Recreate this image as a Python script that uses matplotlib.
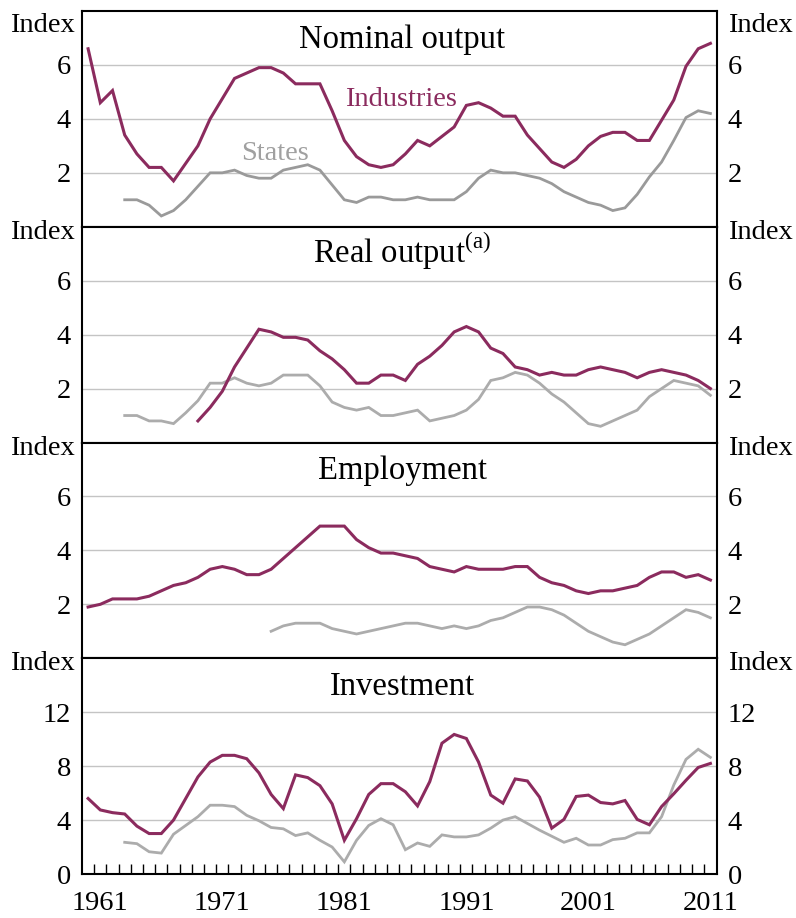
import numpy as np
import matplotlib
matplotlib.use("Agg")
import matplotlib.pyplot as plt

plt.rcParams['font.family'] = ['Liberation Serif', 'DejaVu Serif']
plt.rcParams['mathtext.fontset'] = 'custom'
plt.rcParams['mathtext.rm'] = 'Liberation Serif'

# === Data (annual index values) ===
nominal_industries = [6.6, 4.6, 5.05, 3.4, 2.7, 2.2, 2.2, 1.7, 2.35, 3.0,
                      4.0, 4.75, 5.5, 5.7, 5.9, 5.9, 5.7, 5.3, 5.3, 5.3,
                      4.3, 3.2, 2.6, 2.3, 2.2, 2.3, 2.7, 3.2, 3.0, 3.35,
                      3.7, 4.5, 4.6, 4.4, 4.1, 4.1, 3.4, 2.9, 2.4, 2.2,
                      2.5, 3.0, 3.35, 3.5, 3.5, 3.2, 3.2, 3.95, 4.7, 5.95,
                      6.6, 6.8]  # 1960-2011
nominal_states = [1.0, 1.0, 0.8, 0.4, 0.6, 1.0, 1.5,
                  2.0, 2.0, 2.1, 1.9, 1.8, 1.8, 2.1, 2.2, 2.3, 2.1,
                  1.55, 1.0, 0.9, 1.1, 1.1, 1.0, 1.0, 1.1, 1.0, 1.0,
                  1.0, 1.3, 1.8, 2.1, 2.0, 2.0, 1.9, 1.8, 1.6, 1.3,
                  1.1, 0.9, 0.8, 0.6, 0.7, 1.2, 1.85, 2.4, 3.2, 4.05,
                  4.3, 4.2]  # 1963-2011

real_industries = [0.8,
                   1.3, 1.9, 2.8, 3.5, 4.2, 4.1, 3.9, 3.9, 3.8, 3.4,
                   3.1, 2.7, 2.2, 2.2, 2.5, 2.5, 2.3, 2.9, 3.2, 3.6,
                   4.1, 4.3, 4.1, 3.5, 3.3, 2.8, 2.7, 2.5, 2.6, 2.5,
                   2.5, 2.7, 2.8, 2.7, 2.6, 2.4, 2.6, 2.7, 2.6, 2.5,
                   2.3, 2.0]  # 1969-2011
real_states = [1.0, 1.0, 0.8, 0.8, 0.7, 1.1, 1.55,
               2.2, 2.2, 2.4, 2.2, 2.1, 2.2, 2.5, 2.5, 2.5, 2.1,
               1.5, 1.3, 1.2, 1.3, 1.0, 1.0, 1.1, 1.2, 0.8, 0.9,
               1.0, 1.2, 1.6, 2.3, 2.4, 2.6, 2.5, 2.2, 1.8, 1.5,
               1.1, 0.7, 0.6, 0.8, 1.0, 1.2, 1.7, 2.0, 2.3, 2.2,
               2.1, 1.75]  # 1963-2011

employment_industries = [1.9, 2.0, 2.2, 2.2, 2.2, 2.3, 2.5, 2.7, 2.8, 3.0,
                         3.3, 3.4, 3.3, 3.1, 3.1, 3.3, 3.7, 4.1, 4.5, 4.9,
                         4.9, 4.9, 4.4, 4.1, 3.9, 3.9, 3.8, 3.7, 3.4, 3.3,
                         3.2, 3.4, 3.3, 3.3, 3.3, 3.4, 3.4, 3.0, 2.8, 2.7,
                         2.5, 2.4, 2.5, 2.5, 2.6, 2.7, 3.0, 3.2, 3.2, 3.0,
                         3.1, 2.9]  # 1960-2011
employment_states = [1.0, 1.2, 1.3, 1.3, 1.3,
                     1.1, 1.0, 0.9, 1.0, 1.1, 1.2, 1.3, 1.3, 1.2, 1.1,
                     1.2, 1.1, 1.2, 1.4, 1.5, 1.7, 1.9, 1.9, 1.8, 1.6,
                     1.3, 1.0, 0.8, 0.6, 0.5, 0.7, 0.9, 1.2, 1.5, 1.8,
                     1.7, 1.5]  # 1975-2011

investment_industries = [5.6, 4.75, 4.55, 4.45, 3.55, 3.0, 3.0, 4.0, 5.6, 7.2,
                         8.3, 8.8, 8.8, 8.55, 7.5, 5.9, 4.85, 7.35, 7.15, 6.55,
                         5.2, 2.5, 4.1, 5.9, 6.7, 6.7, 6.1, 5.05, 6.85, 9.7,
                         10.35, 10.05, 8.3, 5.85, 5.25, 7.05, 6.9, 5.7, 3.4, 4.05,
                         5.75, 5.85, 5.3, 5.2, 5.45, 4.05, 3.65, 5.0, 5.95, 6.95,
                         7.9, 8.2]  # 1960-2011
investment_states = [2.35, 2.25, 1.65, 1.55, 2.95, 3.6, 4.25,
                     5.1, 5.1, 5.0, 4.35, 3.95, 3.45, 3.35, 2.85, 3.05, 2.5,
                     2.0, 0.9, 2.5, 3.6, 4.1, 3.65, 1.8, 2.3, 2.05, 2.9,
                     2.75, 2.75, 2.9, 3.4, 4.0, 4.25, 3.75, 3.25, 2.8, 2.35,
                     2.65, 2.15, 2.15, 2.55, 2.65, 3.05, 3.05, 4.25, 6.6, 8.5,
                     9.25, 8.65]  # 1963-2011

panel_titles = ['Nominal output', r'Real output$^{\mathrm{(a)}}$', 'Employment', 'Investment']
year_labels = [1961, 1971, 1981, 1991, 2001, 2011]

IND_COLOR = '#8B2B5E'
STATE_COLOR = '#acacac'
GRID_COLOR = '#c4c4c4'
FS = 20.5


def years_from(start, values):
    return np.arange(start, start + len(values))


panels = [
    (nominal_industries, 1960, nominal_states, 1963, 8, [2, 4, 6]),
    (real_industries, 1969, real_states, 1963, 8, [2, 4, 6]),
    (employment_industries, 1960, employment_states, 1975, 8, [2, 4, 6]),
    (investment_industries, 1960, investment_states, 1963, 16, [0, 4, 8, 12]),
]

fig, axes = plt.subplots(4, 1, figsize=(7.96, 9.18), dpi=100, sharex=True)
fig.subplots_adjust(left=82 / 796, right=716.5 / 796, top=1 - 11 / 918,
                    bottom=1 - 874 / 918, hspace=0)

for i, (ax, (ind, ind_start, sta, sta_start, ymax, yticks)) in enumerate(zip(axes, panels)):
    state_color = '#9a9a9a' if i == 0 else STATE_COLOR
    ax.plot(years_from(sta_start, sta), sta, color=state_color, lw=2.0,
            solid_joinstyle='miter', zorder=3)
    ax.plot(years_from(ind_start, ind), ind, color=IND_COLOR, lw=2.2,
            solid_joinstyle='miter', zorder=4)

    ax.set_ylim(0, ymax)
    ax.set_xlim(1959.5, 2011.5)
    ax.set_yticks(yticks)
    for g in yticks:
        if g > 0:
            ax.axhline(g, color=GRID_COLOR, lw=1.0, zorder=1)

    ax.tick_params(axis='y', which='both', length=0, labelsize=FS, pad=8,
                   left=False, right=False, labelleft=True, labelright=True)
    for s in ax.spines.values():
        s.set_linewidth(1.5)
        s.set_color('black')

    ax.text(0.505, 0.83, panel_titles[i], transform=ax.transAxes, ha='center',
            va='baseline', fontsize=23.5)

    # "Index" unit labels on both sides
    iy = 0.903 if i == 0 else 0.944
    ax.text(-0.011, iy, 'Index', transform=ax.transAxes, ha='right',
            va='baseline', fontsize=FS)
    ax.text(1.018, iy, 'Index', transform=ax.transAxes, ha='left',
            va='baseline', fontsize=FS)

axes[0].text(1985.6, 4.48, 'Industries', color=IND_COLOR, ha='center',
             va='baseline', fontsize=FS)
axes[0].text(1975.3, 2.47, 'States', color='#a0a0a0', ha='center',
             va='baseline', fontsize=FS)

# x axis: year labels, small inward ticks between years on the bottom panel
bottom = axes[-1]
bottom.set_xticks(year_labels)
bottom.set_xticklabels([str(y) for y in year_labels])
bottom.set_xticks(np.arange(1960.5, 2011, 1.0), minor=True)
bottom.tick_params(axis='x', which='major', length=0, labelsize=FS, pad=12)
bottom.tick_params(axis='x', which='minor', direction='in', length=7,
                   width=1.0, color='black')
for ax in axes[:-1]:
    ax.tick_params(axis='x', which='both', length=0, labelbottom=False)

fig.savefig('out.png', dpi=100)
